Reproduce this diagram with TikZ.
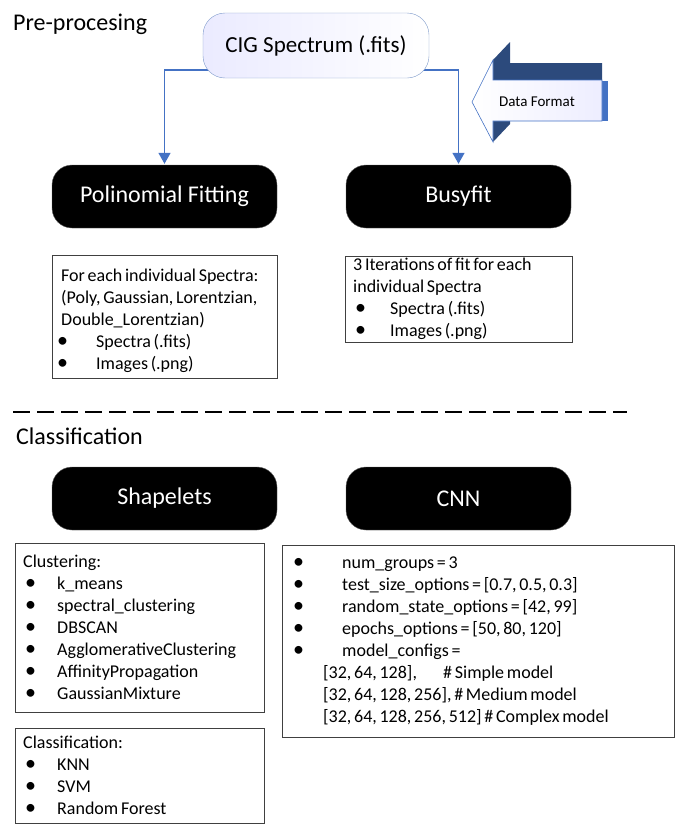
\documentclass[tikz,border=0pt]{standalone}
\usepackage{fontspec}
\setmainfont{Carlito}
\usetikzlibrary{arrows.meta,backgrounds}
\definecolor{flowblue}{HTML}{4472C4}
\definecolor{darknavy}{HTML}{2C4A7C}
\definecolor{cigedge}{HTML}{7F9BCB}
% bullet line: offset of the dot, then room before the text
\newcommand\setbul[2]{\def\bulx{#1}\def\bulw{#2}}
\newcommand\bul[1]{\hspace*{\bulx}\makebox[\bulw][l]{\fontsize{22}{22}\selectfont\textbullet}#1}

\begin{document}
\begin{tikzpicture}[x=1pt,y=-1pt,
  stage/.style={rounded corners=20pt,fill=black,draw=black!60,text=white,
    minimum width=225pt,minimum height=63pt,font=\fontsize{24}{29}\selectfont},
  listbox/.style={draw=black!75,anchor=north west,align=left,inner ysep=0pt,
    font=\fontsize{18}{22}\selectfont,
    execute at begin node={\spaceskip=0.15em plus 0.05em\hyphenpenalty=10000}},
  flow/.style={draw=flowblue,line width=1.5pt,-{Triangle[width=12pt,length=11pt]},shorten >=1pt},
  heading/.style={anchor=west,inner sep=0pt,font=\fontsize{24}{29}\selectfont}]
\useasboundingbox (0,0) rectangle (676,827);

% pre-processing
\node[heading] (pretitle) at (13,24.5) {Pre-procesing};
\node[draw=cigedge,rounded corners=22pt,left color=blue!8!white,right color=white,
  minimum width=226pt,minimum height=65pt,font=\fontsize{23}{28}\selectfont]
  (cig) at (316,45.5) {CIG Spectrum (.fits)};
\node[stage] (poly) at (164.5,196.5) {Polinomial Fitting};
\node[stage] (busy) at (458.5,196.5) {Busyfit};
\begin{scope}[on background layer]
\draw[flow] ([yshift=8pt]cig.south) -| (poly.north);
\draw[flow] ([yshift=8pt]cig.south) -| (busy.north);
\end{scope}

% data format arrow
\fill[darknavy] (493,60) -- (510,42) -- (510,63) -- (602,63) -- (602,80) -- (493,80) -- cycle;
\fill[darknavy] (493,121) -- (510,121) -- (510,124) -- (493,142) -- cycle;
\fill[flowblue] (602,81) rectangle (608,121);
\draw[flowblue,line width=0.6pt,left color=white,right color=blue!7!white]
  (472,102) -- (493,60) -- (493,80) -- (602,80) -- (602,121) -- (493,121) -- (493,142) -- cycle;
\node[font=\fontsize{15}{18}\selectfont] (dataformat) at (537,102) {Data Format};

\node[listbox,inner xsep=9pt,text width=207pt,minimum height=123pt] (polyout) at (52,255)
  {\setbul{-4pt}{39pt}\rule{0pt}{21pt}For each individual Spectra:\\(Poly, Gaussian, Lorentzian,\\Double\_Lorentzian)\\
   \bul{Spectra (.fits)}\\\bul{Images (.png)}};
\node[listbox,inner xsep=8pt,text width=211pt,minimum height=86pt] (busyout) at (345,256)
  {\setbul{2pt}{35pt}3 Iterations of fit for each\\individual Spectra\\
   \bul{Spectra (.fits)}\\\bul{Images (.png)}};

% split
\coordinate (cutL) at (13,412);
\coordinate (cutR) at (627,412);
\draw[line width=2pt,dash pattern=on 17pt off 7pt] (cutL) -- (cutR);

% classification
\node[heading] (classtitle) at (16,436) {Classification};
\node[stage] (shape) at (164.5,498.5) {Shapelets};
\node[stage] (cnn) at (458.5,498.5) {CNN};

\node[listbox,inner xsep=8pt,text width=233pt,minimum height=169pt] (cluster) at (15,543)
  {\setbul{2pt}{32pt}Clustering:\\\bul{k\_means}\\\bul{spectral\_clustering}\\\bul{DBSCAN}\\
   \bul{AgglomerativeClustering}\\\bul{AffinityPropagation}\\\bul{GaussianMixture}};
\node[listbox,inner xsep=8pt,text width=233pt,minimum height=95pt] (classify) at (15,728)
  {\setbul{2pt}{32pt}Classification:\\\bul{KNN}\\\bul{SVM}\\\bul{Random Forest}};
\node[listbox,inner xsep=8pt,text width=376pt,minimum height=192pt] (cnnparams) at (282,545)
  {\setbul{3pt}{49pt}\bul{num\_groups = 3}\\\bul{test\_size\_options = [0.7, 0.5, 0.3]}\\
   \bul{random\_state\_options = [42, 99]}\\\bul{epochs\_options = [50, 80, 120]}\\
   \bul{model\_configs =}\\
   \hspace*{33pt}\makebox[120pt][l]{[32, 64, 128],}\# Simple model\\
   \hspace*{33pt}[32, 64, 128, 256], \# Medium model\\
   \hspace*{33pt}[32, 64, 128, 256, 512] \# Complex model};
\end{tikzpicture}
\end{document}
